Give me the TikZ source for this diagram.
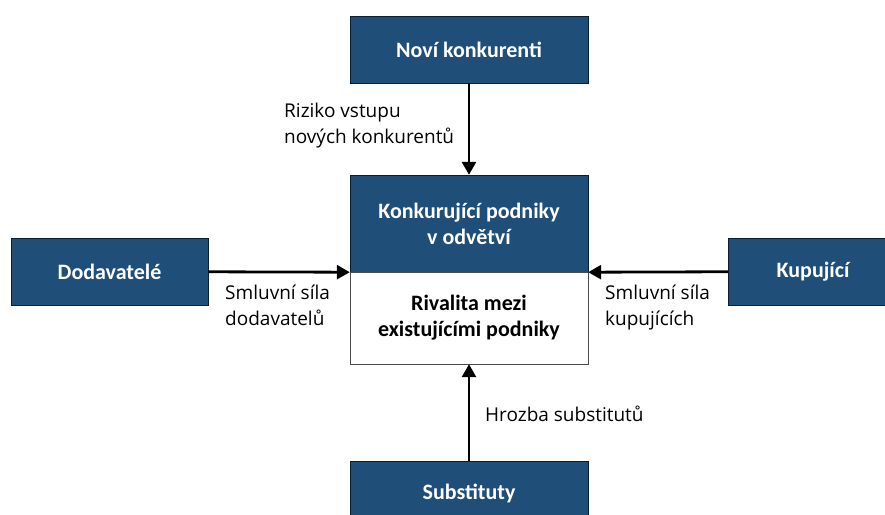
\documentclass[tikz,border=0pt]{standalone}
\usepackage{fontspec}
\setmainfont{Carlito}
\newfontfamily\labelfont{Open Sans}
\usetikzlibrary{arrows.meta, positioning}
\definecolor{boxblue}{HTML}{1F4E79}

\begin{document}
\begin{tikzpicture}[x=1pt, y=-1pt,
    force/.style={draw=black!60!boxblue, fill=boxblue, text=white, font=\fontsize{22}{26}\selectfont\bfseries, align=center, inner sep=0pt, minimum width=238pt},
    rival/.style={draw=black!70, fill=white, font=\fontsize{22}{26}\selectfont\bfseries, align=center, inner sep=0pt, minimum width=238pt},
    note/.style={font=\labelfont\fontsize{19}{26}\selectfont, align=left, inner sep=0pt},
    push/.style={line width=2.8pt, -{Triangle[length=13pt,width=14pt]}}]
    \useasboundingbox (0,0) rectangle (885,514);
    \clip (0,0) rectangle (885,514);
    \fill[white] (0,0) rectangle (885,514);

    \node[force, minimum height=67pt] (konkurenti) at (469,49.5) {Noví konkurenti};
    \node[force, minimum height=97pt] (odvetvi) at (469,223.5) {Konkurující podniky\\v odvětví};
    \node[rival, minimum height=92pt] (rivalita) at (469,318) {Rivalita mezi\\existujícími podniky};
    \node[force, minimum width=197pt, minimum height=67pt] (dodavatele) at (109.5,271.5) {Dodavatelé};
    \node[force, minimum width=170pt, minimum height=67pt] (kupujici) at (813,271.5) {Kupující};
    \node[force, minimum height=64pt] (substituty) at (469,493) {Substituty};

    \draw[push] (konkurenti) -- (odvetvi);
    \draw[push] (dodavatele) -- (odvetvi.south west);
    \draw[push] (kupujici) -- (odvetvi.south east);
    \draw[push] (substituty) -- (rivalita);

    % base anchor sits on the last line
    \node[note, anchor=base west] (riziko) at (284,143) {Riziko vstupu\\nových konkurentů};
    \node[note, anchor=base west] (silaDod) at (225,325) {Smluvní síla\\dodavatelů};
    \node[note, anchor=base west] (silaKup) at (605,325) {Smluvní síla\\kupujících};
    \node[note, anchor=base west] (hrozba) at (485,421) {Hrozba substitutů};
\end{tikzpicture}
\end{document}
